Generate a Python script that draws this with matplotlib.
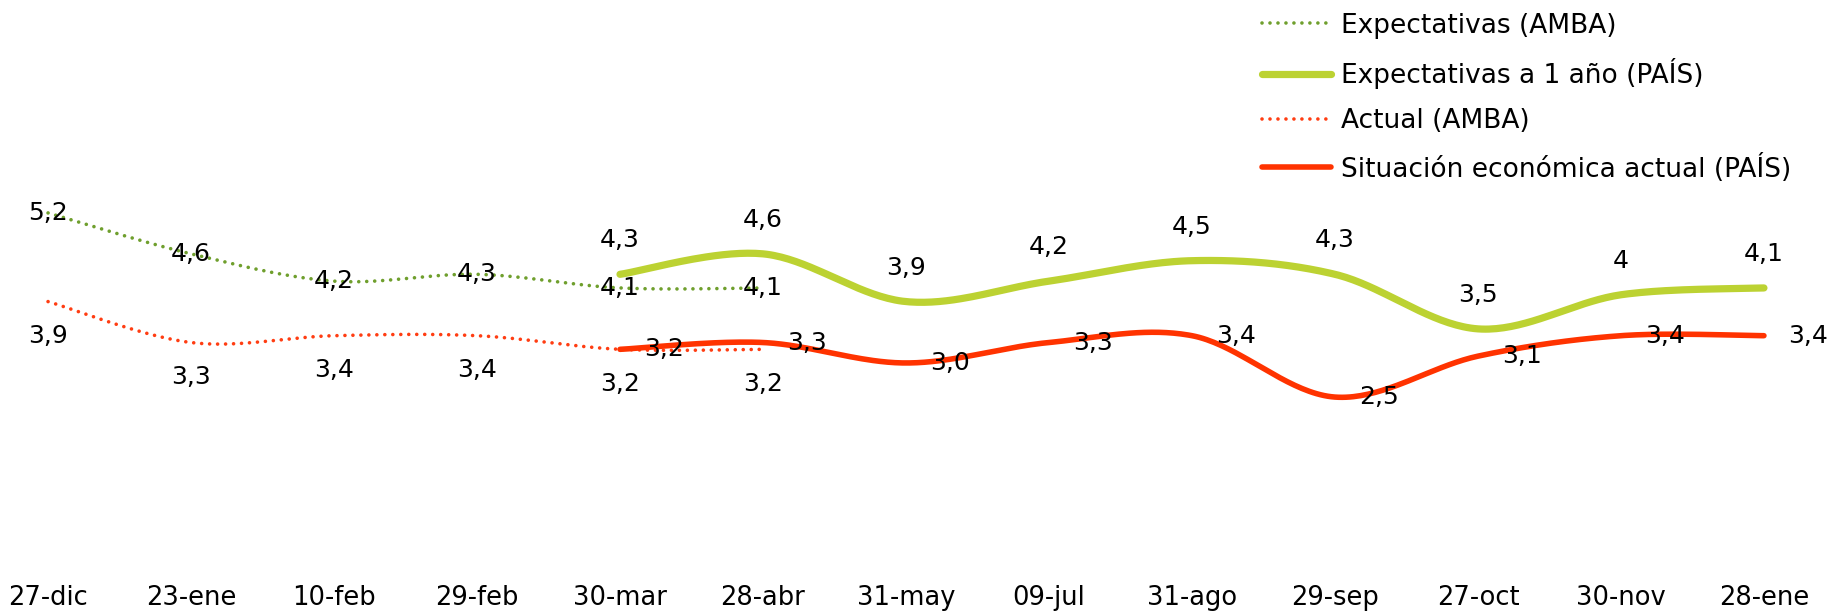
import numpy as np
import matplotlib
matplotlib.use("Agg")
import matplotlib.pyplot as plt

fechas = ["27-dic", "23-ene", "10-feb", "29-feb", "30-mar", "28-abr", "31-may",
          "09-jul", "31-ago", "29-sep", "27-oct", "30-nov", "28-ene"]

# AMBA series cover the first 6 dates, PAÍS series start at 30-mar
expect_amba = [5.2, 4.6, 4.2, 4.3, 4.1, 4.1]
actual_amba = [3.9, 3.3, 3.4, 3.4, 3.2, 3.2]
expect_pais = [4.3, 4.6, 3.9, 4.2, 4.5, 4.3, 3.5, 4, 4.1]
actual_pais = [3.2, 3.3, 3.0, 3.3, 3.4, 2.5, 3.1, 3.4, 3.4]
inicio_pais = 4

verde_osc = "#6f9f2d"
verde = "#bcd232"
rojo_pt = "#ff3d12"
rojo = "#ff3300"


def smooth(x, y, n=40):
    # catmull-rom style bezier, like excel "smoothed line"
    x = np.asarray(x, float)
    y = np.asarray(y, float)
    px = np.concatenate([[x[0]], x, [x[-1]]])
    py = np.concatenate([[y[0]], y, [y[-1]]])
    xs, ys = [], []
    t = np.linspace(0, 1, n)
    for i in range(1, len(px) - 2):
        p0 = np.array([px[i - 1], py[i - 1]])
        p1 = np.array([px[i], py[i]])
        p2 = np.array([px[i + 1], py[i + 1]])
        p3 = np.array([px[i + 2], py[i + 2]])
        c1 = p1 + (p2 - p0) / 6
        c2 = p2 - (p3 - p1) / 6
        b = ((1 - t) ** 3)[:, None] * p1 + (3 * (1 - t) ** 2 * t)[:, None] * c1 \
            + (3 * (1 - t) * t ** 2)[:, None] * c2 + (t ** 3)[:, None] * p2
        xs.extend(b[:, 0])
        ys.extend(b[:, 1])
    return xs, ys


def etiqueta(v):
    return str(v).replace(".", ",")


fig = plt.figure(figsize=(18.32, 6.13), dpi=100)
ax = fig.add_axes([0, 0, 1, 1])
ax.set_xlim(-0.336, 12.476)
ax.set_ylim(-0.666, 8.322)
ax.axis("off")

x_amba = np.arange(len(expect_amba))
x_pais = np.arange(inicio_pais, inicio_pais + len(expect_pais))

sx, sy = smooth(x_amba, expect_amba)
ax.plot(sx, sy, color=verde_osc, lw=2.6, linestyle=(0, (0.01, 2.2)),
        dash_capstyle="round", label="Expectativas (AMBA)")
sx, sy = smooth(x_pais, expect_pais)
ax.plot(sx, sy, color=verde, lw=5.2, solid_capstyle="round",
        label="Expectativas a 1 año (PAÍS)")
sx, sy = smooth(x_amba, actual_amba)
ax.plot(sx, sy, color=rojo_pt, lw=2.6, linestyle=(0, (0.01, 2.2)),
        dash_capstyle="round", label="Actual (AMBA)")
sx, sy = smooth(x_pais, actual_pais)
ax.plot(sx, sy, color=rojo, lw=4, solid_capstyle="round",
        label="Situación económica actual (PAÍS)")

fs = 18
for x, v in zip(x_amba, expect_amba):
    ax.text(x, v, etiqueta(v), ha="center", va="center", fontsize=fs)
for x, v in zip(x_amba, actual_amba):
    ax.annotate(etiqueta(v), (x, v), xytext=(0, -25), textcoords="offset points",
                ha="center", va="center", fontsize=fs)
for x, v in zip(x_pais, expect_pais):
    ax.annotate(etiqueta(v), (x, v), xytext=(0, 24.5), textcoords="offset points",
                ha="center", va="center", fontsize=fs)
for x, v in zip(x_pais, actual_pais):
    ax.annotate(etiqueta(v), (x, v), xytext=(31.5, 0), textcoords="offset points",
                ha="center", va="center", fontsize=fs)

for i, f in enumerate(fechas):
    ax.text(i, -0.44, f, ha="center", va="center", fontsize=18.5)

leg = ax.legend(loc="upper left", bbox_to_anchor=(0.676, 1.018), frameon=False,
                prop={"size": 19}, handlelength=2.6,
                handletextpad=0.38, labelspacing=0.73)

fig.savefig("out.png", dpi=100)
